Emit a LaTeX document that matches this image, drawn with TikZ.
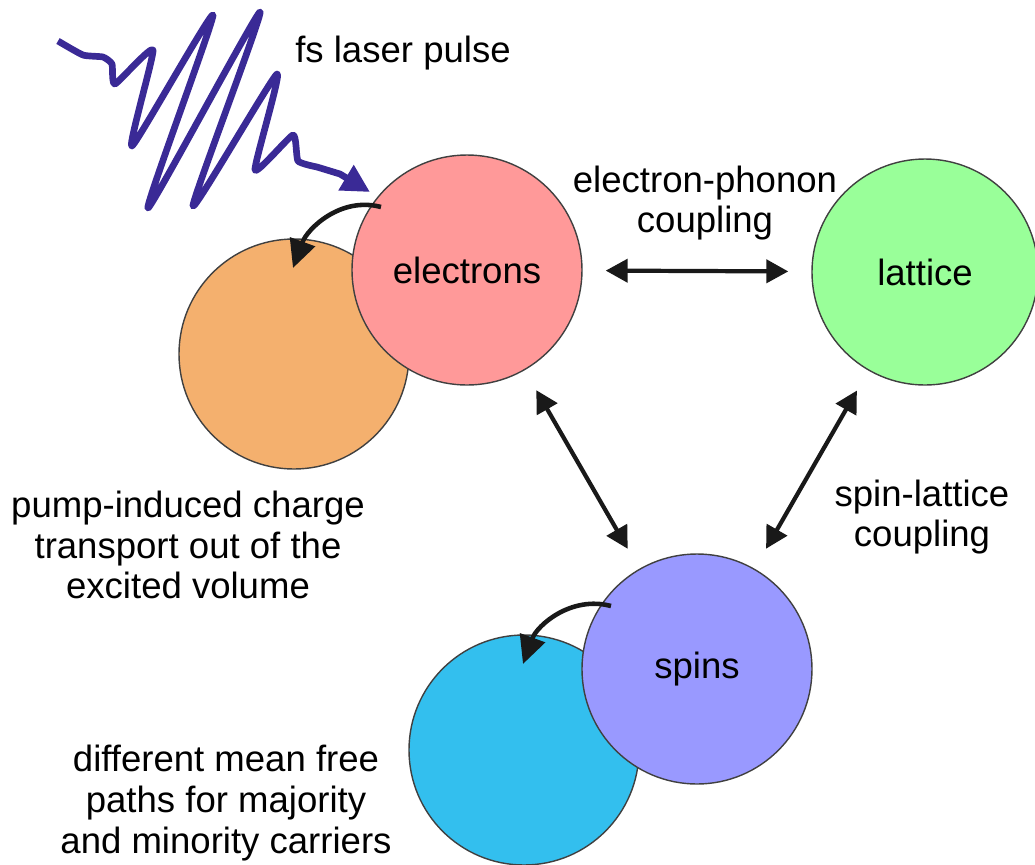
\documentclass[tikz,border=0pt]{standalone}
\usepackage{fontspec}
\setmainfont{Liberation Sans}
\usetikzlibrary{arrows.meta,calc}
\definecolor{laserBlue}{RGB}{58,42,150}
\definecolor{ballOrange}{RGB}{244,176,110}
\definecolor{ballPink}{RGB}{255,153,153}
\definecolor{ballGreen}{RGB}{153,255,153}
\definecolor{ballCyan}{RGB}{51,191,238}
\definecolor{ballViolet}{RGB}{153,153,255}

\begin{document}
\begin{tikzpicture}[
      font=\fontsize{10.4}{11.6}\selectfont,
      ball/.style={circle,draw=black!75,line width=0.4pt,minimum size=2.3cm,inner sep=0pt},
      dar/.style={{Triangle[length=2.2mm,width=2.3mm]}-{Triangle[length=2.2mm,width=2.3mm]},
                  black!90,line width=1.2pt,shorten <=2.3mm,shorten >=2.3mm},
      cur/.style={-{Triangle[length=2.8mm,width=2.6mm]},black!90,line width=1.3pt},
      lbl/.style={align=center}]
    \useasboundingbox (0,0) rectangle (10.35,-8.65);

    % ---------- reservoirs ----------
    \node[ball,fill=ballOrange] (trp) at (2.94,-3.54) {};
    \node[ball,fill=ballPink]   (ele) at (4.67,-2.70) {electrons};
    \node[ball,fill=ballGreen,minimum size=2.26cm] (lat) at (9.25,-2.72) {lattice};
    \node[ball,fill=ballCyan]   (mfp) at (5.24,-7.50) {};
    \node[ball,fill=ballViolet] (spn) at (6.97,-6.69) {spins};

    % ---------- couplings ----------
    \foreach \a/\b in {ele/lat,ele/spn,lat/spn} \draw[dar] (\a) -- (\b);
    \foreach \a/\b in {ele/trp,spn/mfp}
      \draw[cur] ($(\a)+(-0.86,0.63)$) to[out=165,in=70] ($(\b)+(-0.01,0.86)$);

    % ---------- laser pulse ----------
    \draw[laserBlue,line width=1.9pt,line join=round,-{Triangle[length=2.8mm,width=2.8mm]}]
      plot[smooth,tension=0.3] coordinates {(0.58,-0.41) (0.83,-0.55) (1.03,-0.57) (1.12,-0.64)
        (1.15,-0.84) (1.53,-0.50) (1.32,-1.46) (2.13,-0.15) (1.48,-2.08) (2.60,-0.12)
        (1.93,-2.06) (2.77,-0.74) (2.55,-1.70) (2.93,-1.35) (2.98,-1.61) (3.17,-1.67)}
      -- (3.40,-1.74) -- (3.70,-1.92);

    % ---------- labels ----------
    \node[lbl] (lsr) at (4.03,-0.53) {fs laser pulse};
    \node[lbl] (eph) at (7.05,-2.03) {electron-phonon\\coupling};
    \node[lbl] (slc) at (9.22,-5.17) {spin-lattice\\coupling};
    \node[lbl] (ptr) at (1.88,-5.45) {pump-induced charge\\transport out of the\\excited volume};
    \node[lbl] (dmf) at (2.26,-8.03) {different mean free\\paths for majority\\and minority carriers};
  \end{tikzpicture}
\end{document}
